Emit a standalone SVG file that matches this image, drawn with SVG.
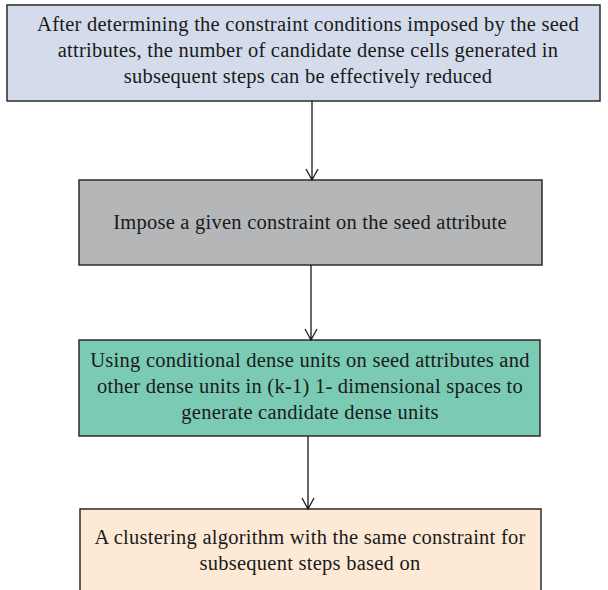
<svg xmlns="http://www.w3.org/2000/svg" width="608" height="590" viewBox="0 0 608 590">
<style>
.box{stroke:#2b2b2b;stroke-width:1.5}
.t{font-family:"Liberation Serif","Times New Roman",serif;font-size:20.5px;letter-spacing:0.25px;fill:#1a1a1a;text-anchor:middle}
.c{stroke:#1a1a1a;stroke-width:1.3;fill:none}
</style>
<rect width="608" height="590" fill="#ffffff"/>
<g id="n1">
<rect class="box" x="7" y="5" width="593" height="96" fill="#d4dceb"/>
<text class="t" x="308" y="31">After determining the constraint conditions imposed by the seed</text>
<text class="t" x="308" y="57">attributes, the number of candidate dense cells generated in</text>
<text class="t" x="308" y="83">subsequent steps can be effectively reduced</text>
</g>
<g id="n2">
<rect class="box" x="79" y="180" width="463" height="85" fill="#b5b6b8"/>
<text class="t" x="310" y="229">Impose a given constraint on the seed attribute</text>
</g>
<g id="n3">
<rect class="box" x="79" y="340" width="461" height="96" fill="#7bcbb4"/>
<text class="t" x="310" y="367">Using conditional dense units on seed attributes and</text>
<text class="t" x="310" y="393">other dense units in (k-1) 1- dimensional spaces to</text>
<text class="t" x="310" y="419">generate candidate dense units</text>
</g>
<g id="n4">
<rect class="box" x="80" y="509" width="461" height="100" fill="#fde9d6"/>
<text class="t" x="310" y="544">A clustering algorithm with the same constraint for</text>
<text class="t" x="310" y="570">subsequent steps based on</text>
</g>
<g id="connectors">
<path class="c" d="M312 101V180M306 169L312 180L318 169"/>
<path class="c" d="M311 265V340M305 329L311 340L317 329"/>
<path class="c" d="M308 436V509M302 498L308 509L314 498"/>
</g>
</svg>
